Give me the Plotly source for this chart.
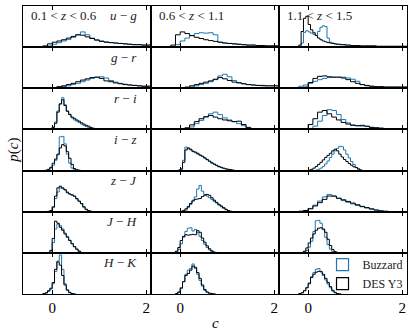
import numpy as np
import plotly.graph_objects as go
from plotly.subplots import make_subplots

# redshift bins (columns) and colours (rows)
z_labels = ["0.1 < <i>z</i> < 0.6", "0.6 < <i>z</i> < 1.1", "1.1 < <i>z</i> < 1.5"]
color_labels = ["<i>u</i> − <i>g</i>", "<i>g</i> − <i>r</i>", "<i>r</i> − <i>i</i>",
                "<i>i</i> − <i>z</i>", "<i>z</i> − <i>J</i>", "<i>J</i> − <i>H</i>",
                "<i>H</i> − <i>K</i>"]
x_ticks = [0, 2]
x_tick_labels = ["0", "2"]
series_names = ["Buzzard", "DES Y3"]

# each panel: (first bin edge, bin width), Buzzard p(c), DES Y3 p(c)
# u - g
ug_z1_bins = (-0.2, 0.1)
ug_z1_buzzard = [0.0, 0.03, 0.07, 0.11, 0.15, 0.19, 0.24, 0.30, 0.37, 0.30, 0.22, 0.18,
                 0.15, 0.13, 0.11, 0.10, 0.09, 0.08, 0.07, 0.06, 0.06, 0.05, 0.05]
ug_z1_des = [0.03, 0.08, 0.12, 0.15, 0.18, 0.22, 0.26, 0.30, 0.29, 0.25, 0.21, 0.17,
             0.14, 0.12, 0.11, 0.10, 0.09, 0.08, 0.07, 0.06, 0.06, 0.05, 0.05]
ug_z2_bins = (-0.2, 0.1)
ug_z2_buzzard = [0.0, 0.06, 0.15, 0.22, 0.28, 0.33, 0.35, 0.34, 0.35, 0.30, 0.12, 0.10,
                 0.09, 0.08, 0.07, 0.06, 0.05, 0.05, 0.04, 0.04, 0.03, 0.03, 0.03]
ug_z2_des = [0.05, 0.30, 0.37, 0.33, 0.28, 0.24, 0.21, 0.18, 0.16, 0.14, 0.12, 0.10,
             0.09, 0.08, 0.07, 0.06, 0.05, 0.05, 0.04, 0.04, 0.03, 0.03, 0.03]
ug_z3_bins = (-0.25, 0.05)
ug_z3_buzzard = [0.0, 0.01, 0.10, 0.36, 0.40, 0.37, 0.34, 0.31, 0.29, 0.38, 0.48, 0.52,
                 0.50, 0.22, 0.12, 0.10, 0.08, 0.07, 0.06, 0.06, 0.05, 0.05, 0.05, 0.04,
                 0.04, 0.04, 0.04, 0.03, 0.03, 0.03, 0.03, 0.03, 0.03, 0.03, 0.02, 0.02,
                 0.02, 0.02, 0.02, 0.02, 0.02, 0.02, 0.02, 0.02, 0.02, 0.02, 0.02]
ug_z3_des = [0.01, 0.05, 0.38, 0.70, 0.75, 0.55, 0.42, 0.35, 0.28, 0.22, 0.18, 0.15,
             0.13, 0.11, 0.10, 0.09, 0.08, 0.07, 0.07, 0.06, 0.06, 0.05, 0.05, 0.04,
             0.04, 0.04, 0.04, 0.03, 0.03, 0.03, 0.03, 0.03, 0.03, 0.03, 0.02, 0.02,
             0.02, 0.02, 0.02, 0.02, 0.02, 0.02, 0.02, 0.02, 0.02, 0.02, 0.02]
# g - r
gr_z1_bins = (-0.3, 0.1)
gr_z1_buzzard = [0.0, 0.0, 0.01, 0.01, 0.02, 0.04, 0.06, 0.09, 0.12, 0.16, 0.20, 0.24,
                 0.27, 0.28, 0.25, 0.19, 0.15, 0.12, 0.10, 0.08, 0.07, 0.06, 0.05, 0.05]
gr_z1_des = [0.0, 0.01, 0.01, 0.02, 0.04, 0.06, 0.09, 0.12, 0.16, 0.20, 0.23, 0.26,
             0.27, 0.24, 0.18, 0.16, 0.13, 0.11, 0.09, 0.08, 0.07, 0.06, 0.05, 0.05]
gr_z2_bins = (0.0, 0.1)
gr_z2_buzzard = [0.0, 0.01, 0.03, 0.06, 0.09, 0.12, 0.16, 0.21, 0.30, 0.34, 0.28, 0.19,
                 0.14, 0.11, 0.09, 0.08, 0.07, 0.06, 0.06, 0.06, 0.06]
gr_z2_des = [0.01, 0.03, 0.06, 0.09, 0.12, 0.15, 0.18, 0.22, 0.26, 0.23, 0.19, 0.15,
             0.13, 0.11, 0.09, 0.08, 0.07, 0.07, 0.06, 0.06, 0.06]
gr_z3_bins = (-0.3, 0.1)
gr_z3_buzzard = [0.02, 0.05, 0.08, 0.12, 0.17, 0.21, 0.24, 0.26, 0.27, 0.27, 0.27, 0.25,
                 0.22, 0.17, 0.09, 0.06, 0.05, 0.04, 0.04, 0.03, 0.03, 0.03, 0.03, 0.03]
gr_z3_des = [0.0, 0.0, 0.03, 0.14, 0.24, 0.29, 0.30, 0.28, 0.27, 0.27, 0.25, 0.21,
             0.16, 0.12, 0.09, 0.07, 0.05, 0.04, 0.04, 0.03, 0.03, 0.03, 0.03, 0.03]
# r - i
ri_z1_bins = (-0.1, 0.05)
ri_z1_buzzard = [0.0, 0.02, 0.06, 0.18, 0.45, 0.62, 0.77, 0.60, 0.45, 0.37, 0.28, 0.23,
                 0.20, 0.17, 0.13, 0.10, 0.07, 0.05, 0.03, 0.02, 0.01, 0.0]
ri_z1_des = [0.01, 0.02, 0.05, 0.15, 0.42, 0.62, 0.72, 0.58, 0.44, 0.36, 0.30, 0.27,
             0.23, 0.20, 0.16, 0.13, 0.10, 0.08, 0.05, 0.03, 0.02, 0.01]
ri_z2_bins = (0.0, 0.1)
ri_z2_buzzard = [0.0, 0.02, 0.06, 0.14, 0.22, 0.30, 0.38, 0.42, 0.36, 0.28, 0.23, 0.19,
                 0.14, 0.09, 0.03, 0.01]
ri_z2_des = [0.01, 0.04, 0.11, 0.19, 0.26, 0.31, 0.34, 0.30, 0.26, 0.23, 0.21, 0.19,
             0.20, 0.12, 0.05, 0.02]
ri_z3_bins = (-0.1, 0.1)
ri_z3_buzzard = [0.0, 0.02, 0.08, 0.20, 0.34, 0.48, 0.46, 0.36, 0.24, 0.16, 0.11, 0.09,
                 0.08, 0.07, 0.05, 0.04, 0.03, 0.02, 0.01]
ri_z3_des = [0.02, 0.12, 0.26, 0.42, 0.46, 0.38, 0.30, 0.23, 0.17, 0.13, 0.10, 0.09,
             0.10, 0.08, 0.05, 0.04, 0.03, 0.02, 0.01]
# i - z
iz_z1_bins = (-0.15, 0.05)
iz_z1_buzzard = [0.0, 0.02, 0.06, 0.13, 0.25, 0.38, 0.82, 0.83, 0.65, 0.40, 0.18, 0.06,
                 0.02, 0.01, 0.0]
iz_z1_des = [0.01, 0.03, 0.08, 0.18, 0.28, 0.40, 0.55, 0.63, 0.60, 0.46, 0.30, 0.15,
             0.05, 0.02, 0.01]
iz_z2_bins = (-0.05, 0.05)
iz_z2_buzzard = [0.0, 0.03, 0.25, 0.57, 0.53, 0.50, 0.46, 0.43, 0.40, 0.37, 0.34, 0.30,
                 0.26, 0.22, 0.18, 0.15, 0.12, 0.09, 0.07, 0.05, 0.04, 0.03, 0.02, 0.01, 0.0]
iz_z2_des = [0.01, 0.04, 0.20, 0.50, 0.55, 0.52, 0.47, 0.45, 0.42, 0.38, 0.35, 0.31,
             0.27, 0.23, 0.19, 0.16, 0.13, 0.10, 0.08, 0.06, 0.04, 0.03, 0.02, 0.01, 0.0]
iz_z3_bins = (0.0, 0.05)
iz_z3_buzzard = [0.0, 0.0, 0.0, 0.01, 0.03, 0.06, 0.10, 0.16, 0.23, 0.32, 0.40, 0.48,
                 0.54, 0.59, 0.58, 0.50, 0.40, 0.31, 0.22, 0.15, 0.08, 0.03, 0.01, 0.0, 0.0]
iz_z3_des = [0.01, 0.03, 0.06, 0.10, 0.15, 0.20, 0.26, 0.32, 0.37, 0.42, 0.48, 0.52,
             0.48, 0.40, 0.33, 0.27, 0.22, 0.17, 0.13, 0.09, 0.07, 0.04, 0.01, 0.0, 0.0]
# z - J
zJ_z1_bins = (-0.1, 0.05)
zJ_z1_buzzard = [0.0, 0.02, 0.10, 0.32, 0.48, 0.58, 0.56, 0.54, 0.48, 0.43, 0.40, 0.37,
                 0.31, 0.25, 0.19, 0.11, 0.05, 0.02, 0.01]
zJ_z1_des = [0.01, 0.03, 0.12, 0.38, 0.58, 0.62, 0.58, 0.53, 0.46, 0.43, 0.41, 0.38,
             0.32, 0.26, 0.20, 0.12, 0.06, 0.03, 0.01]
zJ_z2_bins = (0.0, 0.05)
zJ_z2_buzzard = [0.0, 0.01, 0.04, 0.10, 0.18, 0.28, 0.36, 0.55, 0.64, 0.50, 0.42, 0.38,
                 0.34, 0.30, 0.25, 0.21, 0.16, 0.12, 0.08, 0.05, 0.02, 0.01]
zJ_z2_des = [0.01, 0.03, 0.07, 0.13, 0.20, 0.26, 0.30, 0.31, 0.32, 0.37, 0.40, 0.42,
             0.40, 0.34, 0.28, 0.23, 0.18, 0.14, 0.10, 0.06, 0.03, 0.01]
zJ_z3_bins = (-0.2, 0.1)
zJ_z3_buzzard = [0.01, 0.03, 0.08, 0.16, 0.26, 0.36, 0.42, 0.38, 0.32, 0.27, 0.23, 0.19,
                 0.15, 0.12, 0.09, 0.06, 0.04, 0.02, 0.01]
zJ_z3_des = [0.01, 0.03, 0.07, 0.14, 0.22, 0.30, 0.38, 0.38, 0.33, 0.29, 0.25, 0.21,
             0.17, 0.13, 0.10, 0.07, 0.04, 0.02, 0.01]
# J - H
JH_z1_bins = (-0.1, 0.05)
JH_z1_buzzard = [0.0, 0.04, 0.25, 0.58, 0.70, 0.66, 0.58, 0.48, 0.40, 0.31, 0.23, 0.15,
                 0.09, 0.04, 0.01]
JH_z1_des = [0.01, 0.06, 0.35, 0.77, 0.72, 0.62, 0.55, 0.46, 0.38, 0.30, 0.22, 0.15,
             0.09, 0.04, 0.01]
JH_z2_bins = (-0.15, 0.05)
JH_z2_buzzard = [0.0, 0.02, 0.09, 0.22, 0.38, 0.52, 0.60, 0.61, 0.53, 0.57, 0.49, 0.40,
                 0.30, 0.21, 0.13, 0.07, 0.03, 0.01, 0.0]
JH_z2_des = [0.01, 0.04, 0.13, 0.30, 0.40, 0.44, 0.43, 0.44, 0.45, 0.44, 0.54, 0.50,
             0.36, 0.26, 0.17, 0.10, 0.05, 0.02, 0.01]
JH_z3_bins = (-0.15, 0.05)
JH_z3_buzzard = [0.0, 0.02, 0.06, 0.14, 0.28, 0.52, 0.78, 0.79, 0.72, 0.56, 0.38, 0.20,
                 0.09, 0.03, 0.01, 0.0, 0.0, 0.0]
JH_z3_des = [0.01, 0.04, 0.12, 0.24, 0.36, 0.46, 0.55, 0.60, 0.61, 0.58, 0.50, 0.33,
             0.18, 0.08, 0.03, 0.01, 0.0, 0.0]
# H - K
HK_z1_bins = (-0.2, 0.05)
HK_z1_buzzard = [0.0, 0.02, 0.06, 0.12, 0.25, 0.55, 0.80, 0.95, 0.60, 0.25, 0.09, 0.03,
                 0.01, 0.0]
HK_z1_des = [0.01, 0.03, 0.08, 0.14, 0.28, 0.60, 0.78, 0.70, 0.45, 0.22, 0.10, 0.04,
             0.01, 0.0]
HK_z2_bins = (-0.1, 0.05)
HK_z2_buzzard = [0.0, 0.04, 0.13, 0.30, 0.48, 0.58, 0.62, 0.73, 0.62, 0.48, 0.33, 0.19,
                 0.09, 0.04, 0.02, 0.0, 0.0]
HK_z2_des = [0.01, 0.05, 0.15, 0.30, 0.45, 0.50, 0.58, 0.68, 0.65, 0.52, 0.38, 0.22,
             0.11, 0.05, 0.02, 0.01, 0.0]
HK_z3_bins = (-0.2, 0.05)
HK_z3_buzzard = [0.01, 0.03, 0.08, 0.16, 0.27, 0.42, 0.52, 0.60, 0.62, 0.55, 0.45, 0.34,
                 0.24, 0.15, 0.07, 0.03, 0.01, 0.0]
HK_z3_des = [0.01, 0.03, 0.08, 0.15, 0.25, 0.40, 0.48, 0.53, 0.55, 0.54, 0.48, 0.38,
             0.28, 0.18, 0.09, 0.04, 0.01, 0.0]

panels = [
    [(ug_z1_bins, ug_z1_buzzard, ug_z1_des), (ug_z2_bins, ug_z2_buzzard, ug_z2_des), (ug_z3_bins, ug_z3_buzzard, ug_z3_des)],
    [(gr_z1_bins, gr_z1_buzzard, gr_z1_des), (gr_z2_bins, gr_z2_buzzard, gr_z2_des), (gr_z3_bins, gr_z3_buzzard, gr_z3_des)],
    [(ri_z1_bins, ri_z1_buzzard, ri_z1_des), (ri_z2_bins, ri_z2_buzzard, ri_z2_des), (ri_z3_bins, ri_z3_buzzard, ri_z3_des)],
    [(iz_z1_bins, iz_z1_buzzard, iz_z1_des), (iz_z2_bins, iz_z2_buzzard, iz_z2_des), (iz_z3_bins, iz_z3_buzzard, iz_z3_des)],
    [(zJ_z1_bins, zJ_z1_buzzard, zJ_z1_des), (zJ_z2_bins, zJ_z2_buzzard, zJ_z2_des), (zJ_z3_bins, zJ_z3_buzzard, zJ_z3_des)],
    [(JH_z1_bins, JH_z1_buzzard, JH_z1_des), (JH_z2_bins, JH_z2_buzzard, JH_z2_des), (JH_z3_bins, JH_z3_buzzard, JH_z3_des)],
    [(HK_z1_bins, HK_z1_buzzard, HK_z1_des), (HK_z2_bins, HK_z2_buzzard, HK_z2_des), (HK_z3_bins, HK_z3_buzzard, HK_z3_des)],
]

BLUE = "#1f77b4"
BLACK = "#000000"
FONT = "Liberation Serif, DejaVu Serif, serif"


def step_xy(bins, values):
    # outline of a step histogram, closed to zero at both ends
    start, width = bins
    edges = start + width * np.arange(len(values) + 1)
    x = np.r_[edges[0], edges]
    y = np.r_[0.0, values, 0.0]
    return x, y


nrows, ncols = len(color_labels), len(z_labels)
fig = make_subplots(rows=nrows, cols=ncols, horizontal_spacing=0, vertical_spacing=0)

for r in range(nrows):
    for c in range(ncols):
        bins, buzz, des = panels[r][c]
        for vals, col in ((buzz, BLUE), (des, BLACK)):
            x, y = step_xy(bins, vals)
            fig.add_trace(go.Scatter(x=x, y=y, mode="lines", line=dict(color=col, width=1, shape="hv"),
                                     showlegend=False, hoverinfo="skip"),
                          row=r + 1, col=c + 1)

# legend entries drawn as open boxes
for name, col in zip(series_names, (BLUE, BLACK)):
    fig.add_trace(go.Bar(x=[None], y=[None], name=name,
                         marker=dict(color="rgba(0,0,0,0)", line=dict(color=col, width=1.2))),
                  row=nrows, col=ncols)

fig.update_xaxes(range=[-0.62, 2.1], tickvals=x_ticks, ticktext=x_tick_labels, ticks="inside",
                 ticklen=4, tickwidth=1, tickcolor="black", showline=True, linecolor="black",
                 linewidth=1, mirror="ticks", showgrid=False, zeroline=False, showticklabels=False,
                 tickfont=dict(family=FONT, size=15, color="black"))
fig.update_xaxes(showticklabels=True, row=nrows)
fig.update_yaxes(range=[0, 1], showticklabels=False, ticks="", showline=True, linecolor="black",
                 linewidth=1, mirror=True, showgrid=False, zeroline=False)

annotations = []
for c, lab in enumerate(z_labels):
    ax = "" if c == 0 else str(c + 1)
    annotations.append(dict(text=lab, x=0.045, y=0.78, xref=f"x{ax} domain", yref=f"y{ax} domain",
                            xanchor="left", yanchor="middle", showarrow=False,
                            font=dict(family=FONT, size=13, color="#222")))
for r, lab in enumerate(color_labels):
    n = r * ncols + 1
    ax = "" if n == 1 else str(n)
    annotations.append(dict(text=lab, x=0.905, y=0.76, xref=f"x{ax} domain", yref=f"y{ax} domain",
                            xanchor="right", yanchor="middle", showarrow=False,
                            font=dict(family=FONT, size=13, color="#222")))
annotations.append(dict(text="<i>c</i>", x=0.5, y=-0.1, xref="paper", yref="paper",
                        xanchor="center", yanchor="middle", showarrow=False,
                        font=dict(family=FONT, size=15, color="black")))
annotations.append(dict(text="<i>p</i>(<i>c</i>)", x=-0.027, y=0.5, xref="paper", yref="paper",
                        xanchor="center", yanchor="middle", textangle=-90, showarrow=False,
                        font=dict(family=FONT, size=15, color="black")))

fig.update_layout(
    width=415, height=336,
    margin=dict(l=23, r=8, t=6, b=42),
    plot_bgcolor="white", paper_bgcolor="white",
    annotations=annotations,
    legend=dict(x=0.78, y=0.152, xanchor="left", yanchor="top", bgcolor="rgba(0,0,0,0)",
                font=dict(family=FONT, size=12, color="#222"), tracegroupgap=0, itemwidth=30),
    font=dict(family=FONT),
)

fig.write_html("out.html", config={"displayModeBar": False},
               post_script="document.body.style.margin = '0';")
